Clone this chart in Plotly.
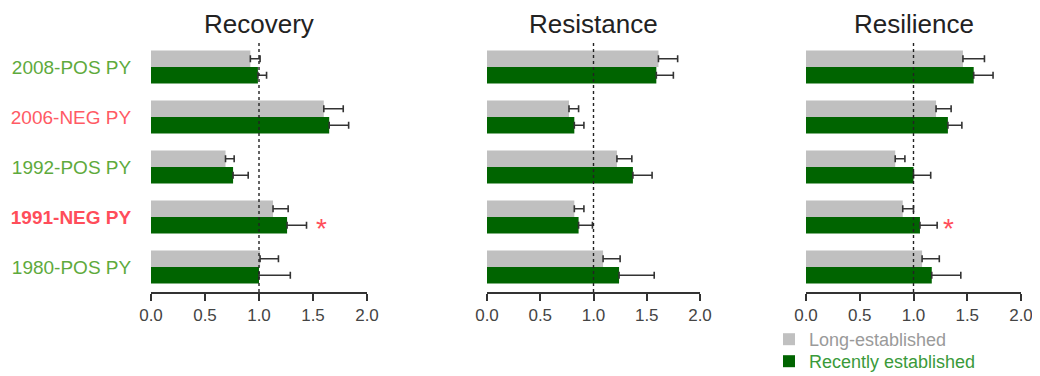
import plotly.graph_objects as go

categories = ["2008-POS PY", "2006-NEG PY", "1992-POS PY", "1991-NEG PY", "1980-POS PY"]
label_colors = ["#5eaa3c", "#ff5a64", "#5eaa3c", "#ff4d5a", "#5eaa3c"]
label_bold = [False, False, False, True, False]

panels = ["Recovery", "Resistance", "Resilience"]

# Long-established (gray) values and errors per panel
long_vals = {
    "Recovery":   [0.92, 1.60, 0.69, 1.13, 1.01],
    "Resistance": [1.61, 0.77, 1.22, 0.82, 1.09],
    "Resilience": [1.46, 1.21, 0.83, 0.90, 1.08],
}
long_err = {
    "Recovery":   [0.09, 0.18, 0.08, 0.14, 0.17],
    "Resistance": [0.18, 0.09, 0.14, 0.09, 0.16],
    "Resilience": [0.20, 0.14, 0.09, 0.10, 0.16],
}
# Recently established (green)
recent_vals = {
    "Recovery":   [0.99, 1.65, 0.76, 1.26, 1.00],
    "Resistance": [1.59, 0.82, 1.37, 0.86, 1.24],
    "Resilience": [1.56, 1.32, 1.00, 1.06, 1.17],
}
recent_err = {
    "Recovery":   [0.08, 0.18, 0.14, 0.18, 0.29],
    "Resistance": [0.16, 0.09, 0.18, 0.13, 0.33],
    "Resilience": [0.18, 0.13, 0.16, 0.16, 0.27],
}
# significance markers: (panel, category, x position)
stars = [("Recovery", "1991-NEG PY", 1.58), ("Resilience", "1991-NEG PY", 1.33)]

x_ticks = [0.0, 0.5, 1.0, 1.5, 2.0]
x_tick_text = ["0.0", "0.5", "1.0", "1.5", "2.0"]

GRAY = "#c0c0c0"
GREEN = "#006400"
ERR = "#333333"

# page body has an 8px margin, so the figure is sized to fill the rest of the window
W, H = 1032, 368
OFF = 8
x_domains = [((151 - OFF) / W, (367 - OFF) / W),
             ((487 - OFF) / W, (700 - OFF) / W),
             ((806 - OFF) / W, (1021 - OFF) / W)]
y_domain = ((H - (292 - OFF)) / H, (H - (42 - OFF)) / H)

fig = go.Figure()

for i, p in enumerate(panels):
    xa = "x" if i == 0 else f"x{i+1}"
    ya = "y" if i == 0 else f"y{i+1}"
    fig.add_trace(go.Bar(
        y=categories, x=long_vals[p], orientation="h",
        marker=dict(color=GRAY, line=dict(width=0)),
        error_x=dict(type="data", array=long_err[p], arrayminus=[0] * 5, symmetric=False,
                     color=ERR, thickness=1.6, width=3.5),
        name="Long-established", legendgroup="long", showlegend=(i == 0),
        legend="legend", xaxis=xa, yaxis=ya,
    ))
    fig.add_trace(go.Bar(
        y=categories, x=recent_vals[p], orientation="h",
        marker=dict(color=GREEN, line=dict(width=0)),
        error_x=dict(type="data", array=recent_err[p], arrayminus=[0] * 5, symmetric=False,
                     color=ERR, thickness=1.6, width=3.5),
        name="<span style='color:#3a9a3a'>Recently established</span>",
        legendgroup="recent", showlegend=(i == 0),
        legend="legend2", xaxis=xa, yaxis=ya,
    ))

tick_text = []
for c, col, b in zip(categories, label_colors, label_bold):
    t = f"<span style='color:{col}'>{c}</span>"
    if b:
        t = f"<b>{t}</b>"
    tick_text.append(t)

legend_common = dict(xanchor="left", yanchor="top", font=dict(size=18, color="#9a9a9a"),
                     itemwidth=30, bgcolor="rgba(0,0,0,0)")

layout = dict(
    width=W, height=H,
    margin=dict(l=0, r=0, t=0, b=0, autoexpand=False),
    paper_bgcolor="white", plot_bgcolor="white",
    barmode="group", bargap=0.34, bargroupgap=0,
    font=dict(family="Liberation Sans, Arial, sans-serif", size=17, color="#444444"),
    legend=dict(x=(788 - OFF - 19) / W, y=(H - (321 - OFF)) / H, **legend_common),
    legend2=dict(x=(788 - OFF - 19) / W, y=(H - (343 - OFF)) / H, **legend_common),
    showlegend=True,
)

shapes = []
annotations = []
for i, p in enumerate(panels):
    sfx = "" if i == 0 else str(i + 1)
    layout[f"xaxis{sfx}"] = dict(
        domain=list(x_domains[i]), range=[0, 2], anchor=f"y{sfx}",
        tickvals=x_ticks, ticktext=x_tick_text,
        showline=True, linecolor="#333333", linewidth=1.6,
        ticks="outside", ticklen=7, tickwidth=1.6, tickcolor="#333333",
        showgrid=False, zeroline=False, fixedrange=True, automargin=False,
        tickfont=dict(size=17, color="#444444"),
    )
    ycfg = dict(
        domain=list(y_domain), anchor=f"x{sfx}",
        type="category", categoryorder="array", categoryarray=categories,
        range=[4.5, -0.5], automargin=False,
        showgrid=False, zeroline=False, showline=False,
    )
    if i == 0:
        ycfg.update(tickvals=categories, ticktext=tick_text, ticks="outside",
                    ticklen=15, tickcolor="rgba(0,0,0,0)",
                    tickfont=dict(size=19))
    else:
        ycfg.update(showticklabels=False, ticks="")
    layout[f"yaxis{sfx}"] = ycfg
    # reference line at 1.0
    shapes.append(dict(type="line", xref=f"x{sfx}", yref="paper",
                       x0=1, x1=1, y0=y_domain[0], y1=(H - (40 - OFF)) / H,
                       line=dict(color="#222222", width=1.4, dash="3px,3px"), layer="above"))
    annotations.append(dict(text=p, xref="paper", yref="paper",
                            x=(x_domains[i][0] + x_domains[i][1]) / 2, y=1,
                            xanchor="center", yanchor="top", showarrow=False, borderpad=0,
                            font=dict(size=26, color="#222222")))

for p, cat, xv in stars:
    i = panels.index(p)
    sfx = "" if i == 0 else str(i + 1)
    annotations.append(dict(text="*", xref=f"x{sfx}", yref=f"y{sfx}", x=xv, y=cat,
                            xanchor="center", yanchor="middle", yshift=-11, showarrow=False,
                            font=dict(size=28, color="#ff4d5a")))

layout["shapes"] = shapes
layout["annotations"] = annotations
fig.update_layout(**layout)

fig.write_html("out.html")
